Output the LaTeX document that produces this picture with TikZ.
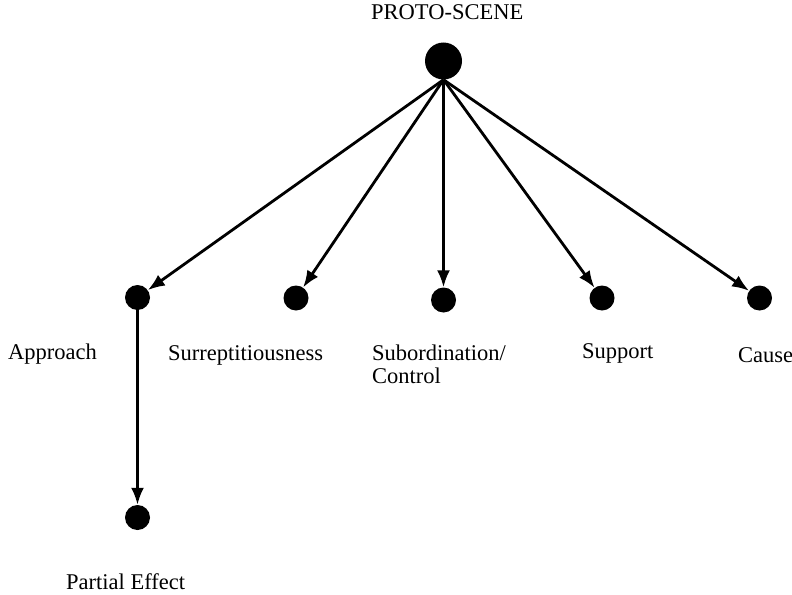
\documentclass[tikz,border=0pt]{standalone}
\usepackage{fontspec}
\setmainfont{Liberation Serif}
\usetikzlibrary{arrows.meta}

\begin{document}
\begin{tikzpicture}[x=1pt, y=-1pt,
    bigdot/.style={circle, fill=black, inner sep=0pt, minimum size=37pt},
    dot/.style={circle, fill=black, inner sep=0pt, minimum size=25pt},
    sense/.style={anchor=base west, inner sep=0pt, font=\fontsize{22.5}{24}\selectfont, align=left},
    link/.style={line width=2.8pt, -{Latex[length=17pt, width=13pt]}}]
  \useasboundingbox (0,0) rectangle (792,594);
  % proto-scene at the top
  \node[bigdot] (proto) at (443.5, 61) {};
  \node[sense] (protolabel) at (371, 20) {PROTO-SCENE};
  % distinct senses
  \node[dot] (approach) at (137.5, 297.5) {};
  \node[dot] (surrept) at (296, 298) {};
  \node[dot] (subord) at (443.5, 300) {};
  \node[dot] (support) at (602, 298) {};
  \node[dot] (cause) at (759.5, 298) {};
  \node[dot] (partial) at (137.5, 517.5) {};
  \node[sense] (approachlabel) at (8, 359) {Approach};
  \node[sense] (surreptlabel) at (168, 360) {Surreptitiousness};
  \node[sense] (subordlabel) at (372, 360) {Subordination/};
  \node[sense] (controllabel) at (372, 383) {Control};
  \node[sense] (supportlabel) at (582, 358) {Support};
  \node[sense] (causelabel) at (738, 362) {Cause};
  \node[sense] (partiallabel) at (66, 589) {Partial Effect};
  % links from the proto-scene
  \draw[link] (proto.south) -- (approach);
  \draw[link] (proto.south) -- (surrept);
  \draw[link] (proto.south) -- (subord);
  \draw[link] (proto.south) -- (support);
  \draw[link] (proto.south) -- (cause);
  \draw[link] (approach) -- (partial);
\end{tikzpicture}
\end{document}
